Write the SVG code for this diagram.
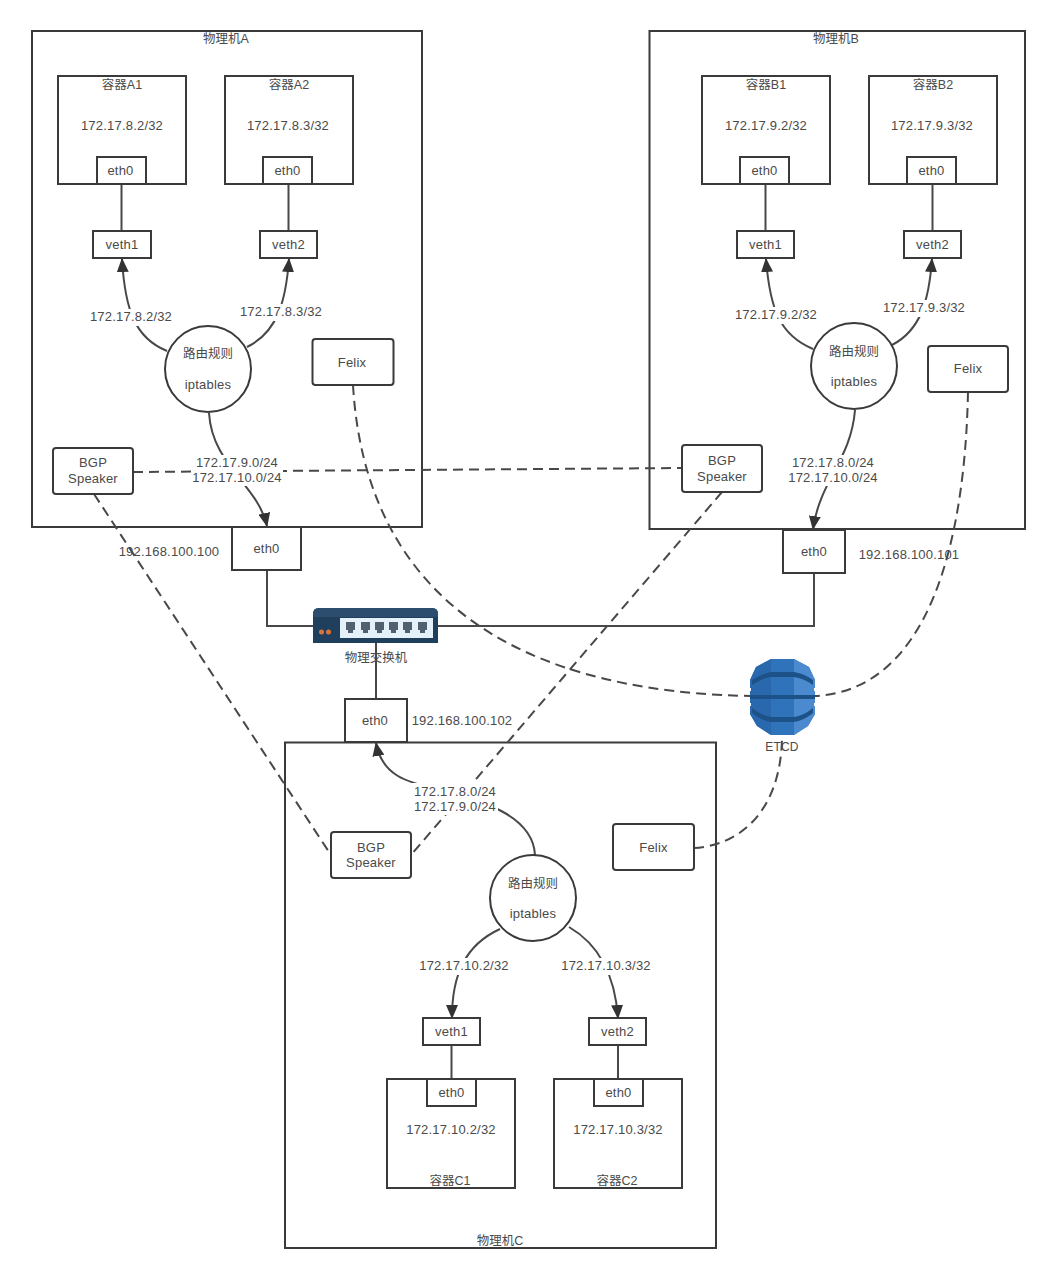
<svg xmlns="http://www.w3.org/2000/svg" width="1053" height="1280" viewBox="0 0 1053 1280">
<style>
text{font-family:"Liberation Sans",Arial,"Noto Sans CJK SC",sans-serif;font-size:13px;fill:#4a4a4a;text-anchor:middle;letter-spacing:.2px}
.z{font-size:12.500px;letter-spacing:0}
.b{fill:#fff;stroke:#3a3a3a;stroke-width:2}
.h{fill:none;stroke:#3a3a3a;stroke-width:2}
.c{fill:none;stroke:#484848;stroke-width:2}
.d{fill:none;stroke:#484848;stroke-width:2;stroke-dasharray:10 6}
.w{fill:#fff}
</style>
<defs><marker id="a" viewBox="0 0 14 12" refX="13" refY="6" markerWidth="14" markerHeight="12" orient="auto" markerUnits="userSpaceOnUse"><path d="M0 0 14 6 0 12Z" fill="#333"/></marker></defs>
<g id="hostA"><rect class="h" x="32" y="31" width="390" height="496"/><text class="z" x="226" y="43">物理机A</text></g>
<g id="hostB"><rect class="h" x="649.500" y="31" width="375.500" height="498"/><text class="z" x="836" y="43">物理机B</text></g>
<g id="hostC"><rect class="h" x="285" y="742.500" width="431" height="505.500"/><text class="z" x="500" y="1245">物理机C</text></g>

<g id="connectors">
<path class="c" d="M121.500 184V231M288.500 184V231M765.500 184V231M932.500 184V231M451.500 1045V1079M618 1045V1079"/>
<path class="c" d="M267 570V626H313M438 626H814V573M376 643V699"/>
<path class="c" marker-end="url(#a)" d="M167 351C135 338 125 310 122 259"/>
<path class="c" marker-end="url(#a)" d="M247 347C278 332 286 300 289 259"/>
<path class="c" marker-end="url(#a)" d="M209 413C212 465 258 485 267 526"/>
<path class="c" marker-end="url(#a)" d="M813 349C780 335 770 310 766 259"/>
<path class="c" marker-end="url(#a)" d="M892 345C921 330 929 300 932 259"/>
<path class="c" marker-end="url(#a)" d="M855 410C851 460 820 480 813 529"/>
<path class="c" marker-end="url(#a)" d="M535 855C533 815 480 800 440 790C405 782 382 775 376 743"/>
<path class="c" marker-end="url(#a)" d="M500 929C465 945 452 975 452 1018"/>
<path class="c" marker-end="url(#a)" d="M569 927C600 945 615 975 618 1018"/>
<path class="d" d="M133 472 682 468"/>
<path class="d" d="M94 494 331 855"/>
<path class="d" d="M722 492 411 855"/>
<path class="d" d="M353 385C362 540 450 690 750 696"/>
<path class="d" d="M968 392C965 540 930 690 815 696"/>
<path class="d" d="M694 848C745 845 782 805 782 735"/>
</g>

<g id="containerA1"><rect class="b" x="58" y="76" width="128" height="108"/><text class="z" x="122" y="89">容器A1</text><text x="122" y="130">172.17.8.2/32</text></g>
<g id="containerA2"><rect class="b" x="225" y="76" width="128" height="108"/><text class="z" x="289" y="89">容器A2</text><text x="288" y="130">172.17.8.3/32</text></g>
<g id="containerB1"><rect class="b" x="702" y="76" width="128" height="108"/><text class="z" x="766" y="89">容器B1</text><text x="766" y="130">172.17.9.2/32</text></g>
<g id="containerB2"><rect class="b" x="869" y="76" width="128" height="108"/><text class="z" x="933" y="89">容器B2</text><text x="932" y="130">172.17.9.3/32</text></g>
<g id="containerC1"><rect class="b" x="387" y="1079" width="128" height="109"/><text x="451" y="1134">172.17.10.2/32</text><text class="z" x="450" y="1185">容器C1</text></g>
<g id="containerC2"><rect class="b" x="554" y="1079" width="128" height="109"/><text x="618" y="1134">172.17.10.3/32</text><text class="z" x="617" y="1185">容器C2</text></g>

<g id="ethA1"><rect class="b" x="97" y="157" width="49" height="27"/><text x="120.500" y="175">eth0</text></g>
<g id="ethA2"><rect class="b" x="263" y="157" width="49" height="27"/><text x="287.500" y="175">eth0</text></g>
<g id="ethB1"><rect class="b" x="740" y="157" width="49" height="27"/><text x="764.500" y="175">eth0</text></g>
<g id="ethB2"><rect class="b" x="907" y="157" width="49" height="27"/><text x="931.500" y="175">eth0</text></g>
<g id="ethC1"><rect class="b" x="427" y="1079" width="49" height="27"/><text x="451.500" y="1097">eth0</text></g>
<g id="ethC2"><rect class="b" x="594" y="1079" width="49" height="27"/><text x="618.500" y="1097">eth0</text></g>

<g id="vethA1"><rect class="b" x="93" y="231" width="58" height="27"/><text x="122" y="249">veth1</text></g>
<g id="vethA2"><rect class="b" x="260" y="231" width="57" height="27"/><text x="288.500" y="249">veth2</text></g>
<g id="vethB1"><rect class="b" x="737" y="231" width="57" height="27"/><text x="765.500" y="249">veth1</text></g>
<g id="vethB2"><rect class="b" x="904" y="231" width="57" height="27"/><text x="932.500" y="249">veth2</text></g>
<g id="vethC1"><rect class="b" x="423" y="1018" width="57" height="27"/><text x="451.500" y="1036">veth1</text></g>
<g id="vethC2"><rect class="b" x="589" y="1018" width="57" height="27"/><text x="617.500" y="1036">veth2</text></g>

<g id="routeA"><circle class="b" cx="208" cy="369" r="43"/><text class="z" x="208" y="358">路由规则</text><text x="208" y="389">iptables</text></g>
<g id="routeB"><circle class="b" cx="854" cy="366" r="43"/><text class="z" x="854" y="356">路由规则</text><text x="854" y="386">iptables</text></g>
<g id="routeC"><circle class="b" cx="533" cy="898" r="43"/><text class="z" x="533" y="888">路由规则</text><text x="533" y="918">iptables</text></g>

<g id="felixA"><rect class="b" x="312.500" y="339" width="81" height="46" rx="3"/><text x="352" y="367">Felix</text></g>
<g id="felixB"><rect class="b" x="928" y="346" width="80" height="46" rx="3"/><text x="968" y="373">Felix</text></g>
<g id="felixC"><rect class="b" x="613" y="824" width="81" height="46" rx="3"/><text x="653.500" y="852">Felix</text></g>

<g id="bgpA"><rect class="b" x="53" y="448" width="80" height="46" rx="3"/><text x="93" y="467">BGP</text><text x="93" y="483">Speaker</text></g>
<g id="bgpB"><rect class="b" x="682" y="445" width="80" height="47" rx="3"/><text x="722" y="465">BGP</text><text x="722" y="481">Speaker</text></g>
<g id="bgpC"><rect class="b" x="331" y="832" width="80" height="46" rx="3"/><text x="371" y="852">BGP</text><text x="371" y="867">Speaker</text></g>

<g id="ethHostA"><rect class="b" x="232" y="527" width="69" height="43"/><text x="266.500" y="553">eth0</text></g>
<g id="ethHostB"><rect class="b" x="783" y="530" width="62" height="43"/><text x="814" y="556">eth0</text></g>
<g id="ethHostC"><rect class="b" x="345" y="699" width="62" height="43"/><text x="375" y="725">eth0</text></g>

<g id="edgeLabels">
<rect class="w" x="88" y="309" width="86" height="17"/><text x="131" y="321">172.17.8.2/32</text>
<rect class="w" x="238" y="304" width="86" height="17"/><text x="281" y="316">172.17.8.3/32</text>
<rect class="w" x="192" y="455" width="91" height="31"/><text x="237" y="467">172.17.9.0/24</text><text x="237" y="482">172.17.10.0/24</text>
<rect class="w" x="733" y="307" width="86" height="17"/><text x="776" y="319">172.17.9.2/32</text>
<rect class="w" x="881" y="300" width="86" height="17"/><text x="924" y="312">172.17.9.3/32</text>
<rect class="w" x="787" y="455" width="93" height="31"/><text x="833" y="467">172.17.8.0/24</text><text x="833" y="482">172.17.10.0/24</text>
<rect class="w" x="412" y="783" width="86" height="32"/><text x="455" y="796">172.17.8.0/24</text><text x="455" y="811">172.17.9.0/24</text>
<rect class="w" x="418" y="958" width="92" height="17"/><text x="464" y="970">172.17.10.2/32</text>
<rect class="w" x="560" y="958" width="92" height="17"/><text x="606" y="970">172.17.10.3/32</text>
<text x="169" y="556">192.168.100.100</text>
<text x="909" y="559">192.168.100.101</text>
<text x="462" y="725">192.168.100.102</text>
</g>

<g id="switch">
<path d="M319 608H432Q438 608 438 614V643H313V614Q313 608 319 608Z" fill="#203f5c"/>
<path d="M319 608H432Q438 608 438 614V617H313V614Q313 608 319 608Z" fill="#2c4d6d"/>
<rect x="340" y="618" width="93" height="20" fill="#e4f1fa"/>
<g fill="#50606e"><path d="M346 622H355V630H353V633H348V630H346Z"/><path d="M361 622H370V630H368V633H363V630H361Z"/><path d="M375 622H384V630H382V633H377V630H375Z"/><path d="M389 622H398V630H396V633H391V630H389Z"/><path d="M403 622H412V630H410V633H405V630H403Z"/><path d="M418 622H427V630H425V633H420V630H418Z"/></g>
<circle cx="321.500" cy="632" r="2.500" fill="#d9743a"/><circle cx="328.500" cy="632" r="2.500" fill="#d9743a"/>
<text class="z" x="376" y="662">物理交换机</text>
</g>

<g id="etcd">
<path d="M771 659H794L809 667 815 680V714L808 726 794 735H771L757 726 750 714V680L756 667Z" fill="#2f73bb"/>
<path d="M771 659V735L757 726 750 714V680L756 667Z" fill="#2a68ad"/>
<path d="M794 659V735L808 726 815 714V680L809 667Z" fill="#4c8ad0"/>
<path d="M752 680Q764 673 771 672H794Q803 673 813 680V685Q803 678 794 677H771Q762 678 752 685ZM750 695H815V699H750ZM752 708Q762 716 771 717H794Q803 716 813 708V713Q803 721 794 722H771Q762 721 752 713Z" fill="#1d5288"/>
<path d="M750 688V691M815 688V691M750 703V706M815 703V706" stroke="#fff" stroke-width="2"/>
<text x="782" y="751" style="font-size:12px">ETCD</text>
</g>
</svg>
